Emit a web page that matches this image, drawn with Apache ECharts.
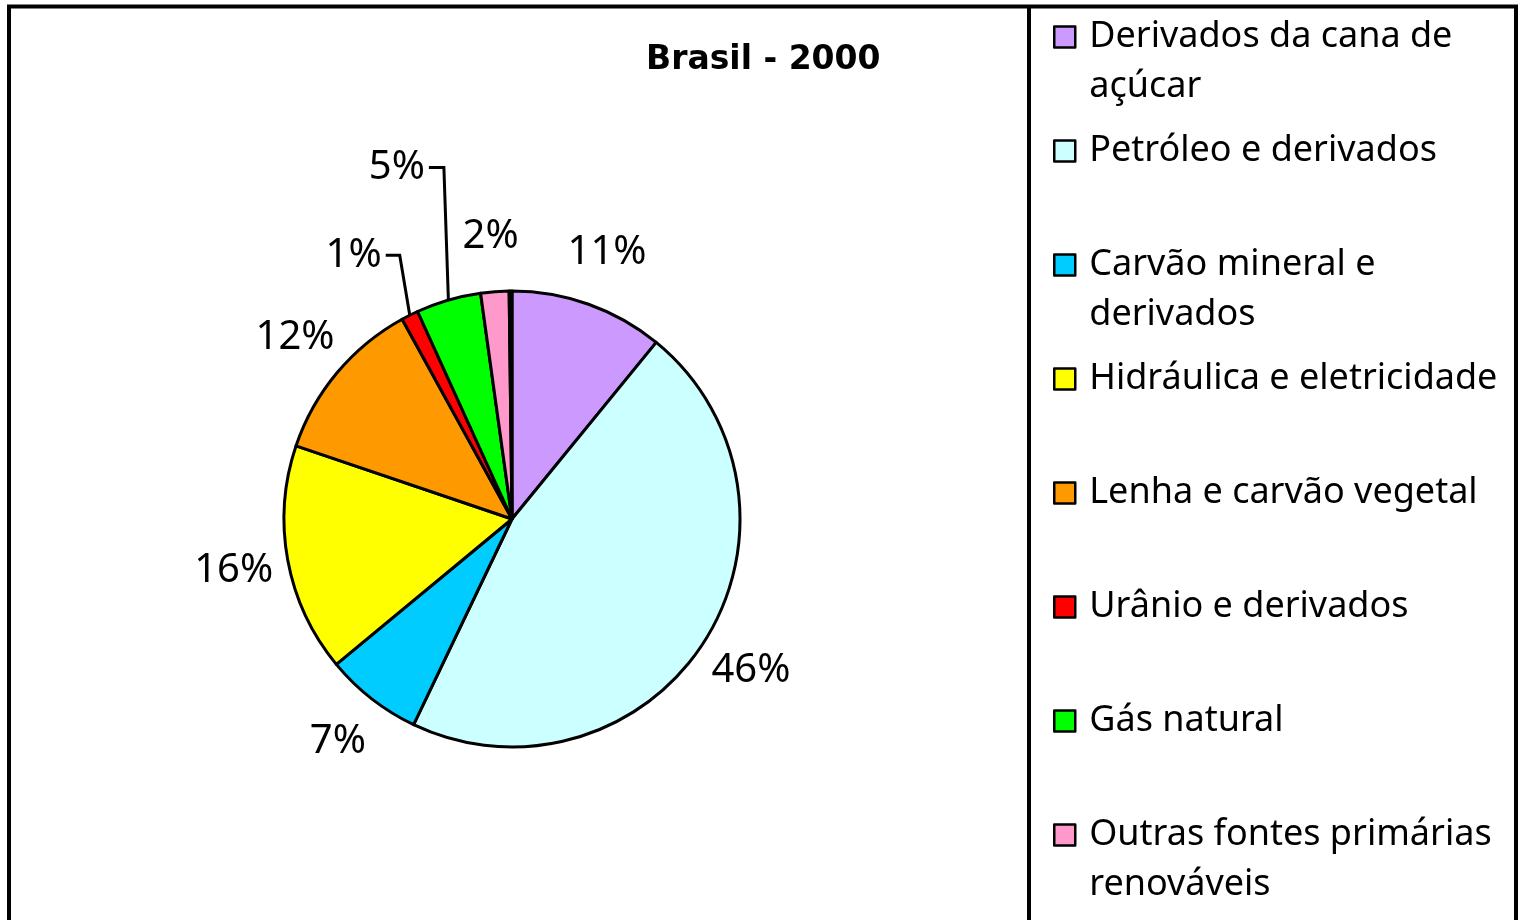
<!DOCTYPE html>
<html>
<head>
<meta charset="utf-8">
<script src="https://cdn.jsdelivr.net/npm/echarts@6/dist/echarts.min.js"></script>
<style>
html, body { margin: 0; padding: 0; background: #fff; }
#main { width: 1520px; height: 920px; }
</style>
</head>
<body>
<div id="main"></div>
<script>
var categories = ['Derivados da cana de açúcar', 'Petróleo e derivados', 'Carvão mineral e derivados', 'Hidráulica e eletricidade', 'Lenha e carvão vegetal', 'Urânio e derivados', 'Gás natural', 'Outras fontes primárias renováveis'];
var legendLabels = ['Derivados da cana de\naçúcar', 'Petróleo e derivados', 'Carvão mineral e\nderivados', 'Hidráulica e eletricidade', 'Lenha e carvão vegetal', 'Urânio e derivados', 'Gás natural', 'Outras fontes primárias\nrenováveis'];
var shares = [10.9, 46.2, 6.9, 16.2, 11.8, 1.2, 4.6, 2.0];
var colors = ['#CC99FF', '#CCFFFF', '#00CCFF', '#FFFF00', '#FF9900', '#FF0000', '#00FF00', '#FF99CC'];
// fatia minúscula entre rosa e lilás (fora da legenda)
var restoShare = 0.2;
var restoColor = '#000000';

// rótulos com linha de chamada: [length, length2, deslocamento x]
var leader = { 'Urânio e derivados': [67, 14, 20], 'Gás natural': [138, 15, 34] };

var myChart = echarts.init(document.getElementById('main'));

var pieData = categories.map(function (name, i) {
    var item = { name: name, value: shares[i], itemStyle: { color: colors[i] } };
    if (leader[name]) {
        item.labelLine = { show: true, length: leader[name][0], length2: leader[name][1] };
    }
    return item;
});
pieData.push({ name: 'resto', value: restoShare, itemStyle: { color: restoColor }, label: { show: false }, labelLine: { show: false } });

// todas as entradas da legenda com 3 linhas: o ícone fica na altura da primeira linha do texto
function legendText(name) {
    var parts = legendLabels[categories.indexOf(name)].split('\n');
    if (parts.length < 2) parts.push(' ');
    return ' \n' + parts.join('\n');
}

var option = {
    animation: false,
    title: {
        text: 'Brasil - 2000',
        left: 646,
        top: 44,
        padding: 0,
        textStyle: { fontFamily: 'DejaVu Sans', fontWeight: 'bold', fontSize: 33, color: '#000' }
    },
    legend: {
        orient: 'vertical',
        left: 1053,
        top: -38,
        padding: 0,
        itemGap: -36,
        itemWidth: 21,
        itemHeight: 21,
        icon: 'rect',
        selectedMode: false,
        itemStyle: { borderColor: '#000', borderWidth: 2.5 },
        textStyle: { fontFamily: 'Noto Sans', fontSize: 36, lineHeight: 50, color: '#000', padding: [0, 0, 0, 9] },
        formatter: legendText,
        data: categories
    },
    graphic: [
        { type: 'rect', silent: true, shape: { x: 9, y: 6.5, width: 1507, height: 1000 }, style: { fill: null, stroke: '#000', lineWidth: 4 } },
        { type: 'line', silent: true, shape: { x1: 1029, y1: 6, x2: 1029, y2: 920 }, style: { stroke: '#000', lineWidth: 4 } }
    ],
    series: [
        {
            type: 'pie',
            center: [512, 519],
            radius: 228,
            startAngle: 90,
            clockwise: true,
            avoidLabelOverlap: false,
            itemStyle: { borderColor: '#000', borderWidth: 3 },
            label: {
                show: true,
                position: 'outside',
                fontFamily: 'Noto Sans',
                fontSize: 40,
                color: '#000',
                distanceToLabelLine: 4,
                formatter: function (p) {
                    return Math.round(p.percent) + '%';
                }
            },
            labelLine: { show: false, length: 55, length2: 0, lineStyle: { color: '#000', width: 3 } },
            labelLayout: function (p) {
                var name = categories[p.dataIndex];
                if (!name) {
                    return {};
                }
                if (leader[name]) {
                    var s = leader[name][2];
                    var pts = p.labelLinePoints;
                    if (!pts) {
                        return { dx: s };
                    }
                    return {
                        dx: s,
                        labelLinePoints: [
                            [pts[0][0], pts[0][1]],
                            [pts[1][0] + s, pts[1][1]],
                            [pts[2][0] + s, pts[2][1]]
                        ]
                    };
                }
                var half = p.labelRect.width / 2 + 4;
                return { dx: p.align === 'left' ? -half : half };
            },
            emphasis: { disabled: true },
            data: pieData
        }
    ]
};

myChart.setOption(option);
</script>
</body>
</html>
